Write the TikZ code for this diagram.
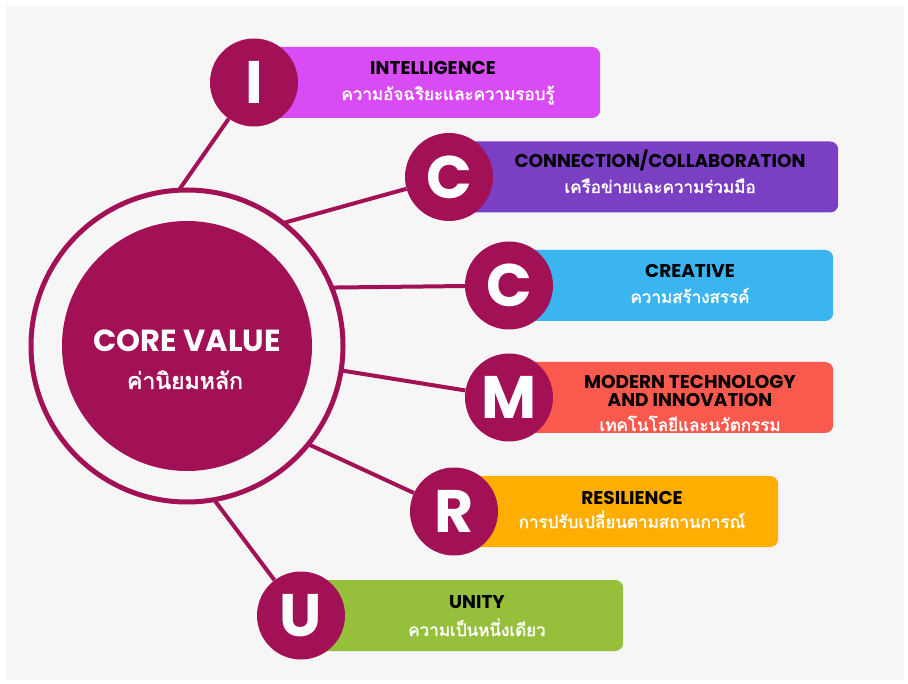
\documentclass[tikz,border=0pt]{standalone}
\usepackage{fontspec}
\setmainfont{Poppins}
\newfontfamily\thaifont[Script=Thai, AutoFakeBold=2]{Loma}
\definecolor{corered}{HTML}{A21155}
\definecolor{panelgray}{HTML}{F6F6F6}
\definecolor{intcol}{HTML}{D94CF5}
\definecolor{concol}{HTML}{7B3FC4}
\definecolor{crecol}{HTML}{3BB5F0}
\definecolor{modcol}{HTML}{FA5A4E}
\definecolor{rescol}{HTML}{FFAE00}
\definecolor{unicol}{HTML}{96BF3B}
\begin{document}
\begin{tikzpicture}[x=1pt, y=-1pt,
					ring/.style={circle, draw=corered, line width=5pt, minimum size=312pt, inner sep=0pt, outer sep=0pt},
					hub/.style={circle, fill=corered, minimum size=250pt, inner sep=0pt, text=white, align=center},
					letter/.style={circle, fill=corered, minimum size=88pt, inner sep=0pt, text=white, font=\fontsize{60}{60}\selectfont\bfseries},
					valuebox/.style={rounded corners=8pt, minimum height=71pt, inner sep=0pt, anchor=west},
					headline/.style={anchor=base, inner sep=0pt, font=\fontsize{18.5}{20}\selectfont\bfseries, align=center},
					thailine/.style={anchor=base, inner sep=0pt, text=white, font=\fontsize{17}{19}\thaifont\bfseries},
					link/.style={draw=corered, line width=4pt}]
					\useasboundingbox (0,0) rectangle (908,684);
					\fill[panelgray] (6,6) rectangle (904,680);
					% centre
					\node[ring] (core) at (187,346) {};
					\node[hub] (hub) at (187,346) {};
					\node[anchor=base, inner sep=0pt, text=white, font=\fontsize{30.5}{32}\selectfont\bfseries] (corett) at (187,352) {CORE VALUE};
					\node[thailine, font=\fontsize{23}{25}\thaifont\bfseries] (coreth) at (185,389) {ค่านิยมหลัก};
					% boxes
					\node[valuebox, fill=intcol, minimum width=345pt] (bi) at (255,82.5) {};
					\node[valuebox, fill=concol, minimum width=389pt] (bc) at (449,177) {};
					\node[valuebox, fill=crecol, minimum width=324pt] (bcr) at (509,285.5) {};
					\node[valuebox, fill=modcol, minimum width=324pt] (bm) at (509,397.5) {};
					\node[valuebox, fill=rescol, minimum width=324pt] (br) at (454,511.5) {};
					\node[valuebox, fill=unicol, minimum width=322pt] (bu) at (301,615.5) {};
					% letters
					\node[letter] (li) at (254,82.5) {I};
					\node[letter] (lc) at (449,177) {C};
					\node[letter] (lcr) at (509,285.5) {C};
					\node[letter] (lm) at (509,397.5) {M};
					\node[letter] (lr) at (454,511.5) {R};
					\node[letter] (lu) at (301,615.5) {U};
					% texts
					\node[headline] (ti) at (433,75) {INTELLIGENCE};
					\node[thailine] (thi) at (448,100) {ความอัจฉริยะและความรอบรู้};
					\node[headline] (tc) at (660,168) {CONNECTION/COLLABORATION};
					\node[thailine] (thc) at (660,193) {เครือข่ายและความร่วมมือ};
					\node[headline] (tcr) at (690,278) {CREATIVE};
					\node[thailine] (thcr) at (690,303) {ความสร้างสรรค์};
					\node[headline] (tm) at (690,389) {MODERN TECHNOLOGY};
					\node[headline] (tm2) at (690,407) {AND INNOVATION};
					\node[thailine] (thm) at (690,431) {เทคโนโลยีและนวัตกรรม};
					\node[headline] (tr) at (632,504) {RESILIENCE};
					\node[thailine] (thr) at (632,528) {การปรับเปลี่ยนตามสถานการณ์};
					\node[headline] (tu) at (477,608) {UNITY};
					\node[thailine] (thu) at (477,636) {ความเป็นหนึ่งเดียว};
					% links
					\draw[link] (core.93.7) -- (li);
					\draw[link] (core.52.7) -- (lc);
					\draw[link] (core.22) -- (lcr);
					\draw[link] (core.-9.3) -- (lm);
					\draw[link] (core.-39.4) -- (lr);
					\draw[link] (core.-80) -- (lu);
				\end{tikzpicture}
\end{document}
